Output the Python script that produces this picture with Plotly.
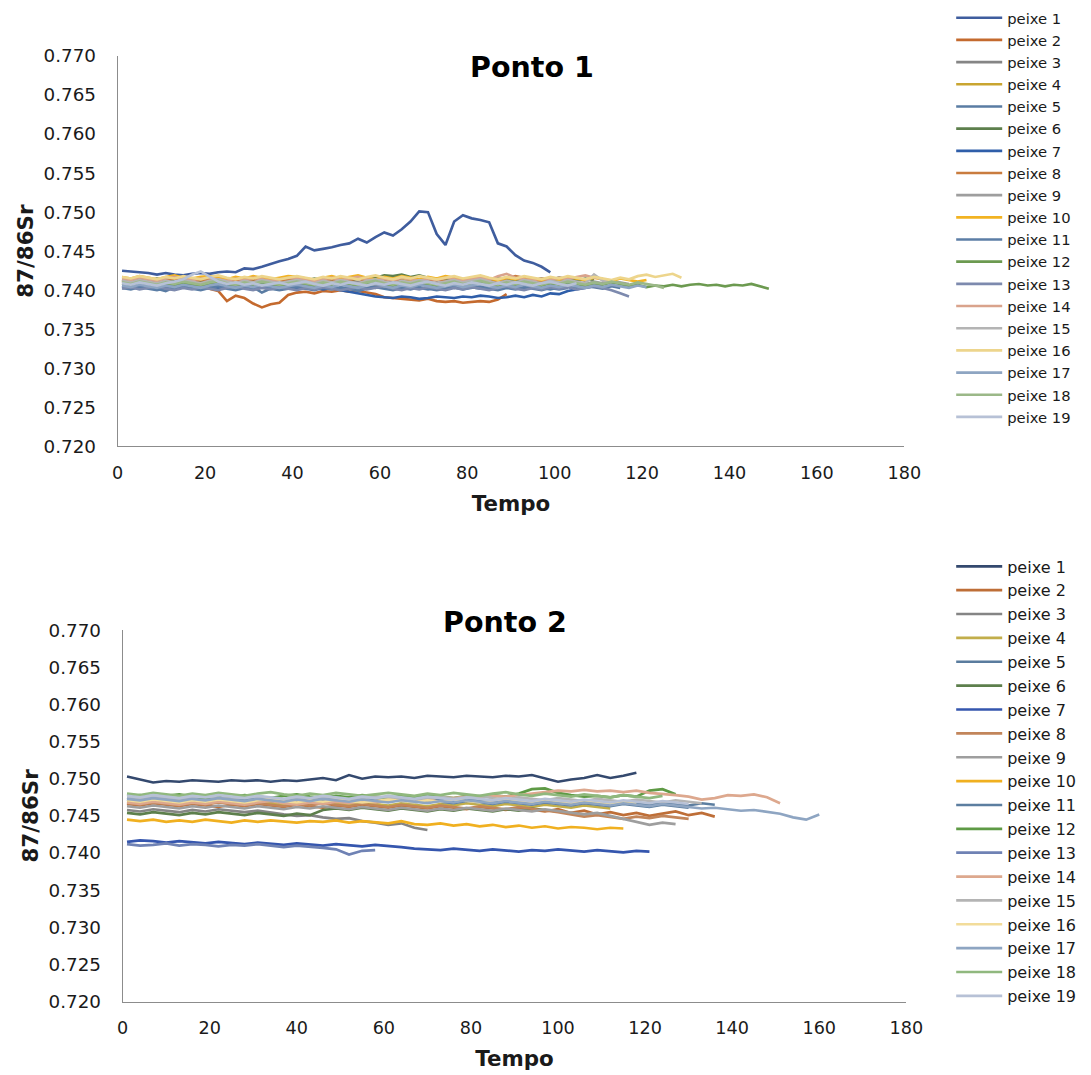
import plotly.graph_objects as go

# ---------------- data ----------------
NAMES = ["peixe 1", "peixe 2", "peixe 3", "peixe 4", "peixe 5", "peixe 6", "peixe 7",
         "peixe 8", "peixe 9", "peixe 10", "peixe 11", "peixe 12", "peixe 13", "peixe 14",
         "peixe 15", "peixe 16", "peixe 17", "peixe 18", "peixe 19"]

# time index of the readings (Ponto 1 read every 2 units, Ponto 2 every 3 units)
tempo_1 = list(range(1, 150, 2))
tempo_2 = list(range(1, 164, 3))

# ---- Ponto 1 ----
a01 = [.7425, .7424, .7423, .7422, .7420, .7422, .7420, .7419, .7421, .7422,
       .7421, .7423, .7424, .7423, .7428, .7427, .7430, .7434, .7437, .7440,
       .7444, .7456, .7451, .7453, .7455, .7458, .7460, .7466, .7461, .7468,
       .7474, .7470, .7478, .7488, .7501, .7500, .7472, .7458, .7488, .7496,
       .7492, .7490, .7487, .7460, .7456, .7445, .7438, .7435, .7430, .7423]
a02 = [.7412, .7410, .7411, .7409, .7410, .7408, .7409, .7407, .7406, .7405,
       .7402, .7399, .7386, .7393, .7390, .7383, .7378, .7382, .7384, .7394,
       .7397, .7398, .7396, .7399, .7398, .7400, .7398, .7399, .7397, .7395,
       .7391, .7390, .7389, .7388, .7387, .7389, .7386, .7385, .7386, .7384,
       .7385, .7386, .7385, .7388, .7395]
a03 = [.7409, .7407, .7410, .7408, .7406, .7409, .7411, .7408, .7407, .7409,
       .7410, .7408, .7406, .7409, .7407, .7410, .7408, .7406, .7408, .7410,
       .7409, .7407, .7405, .7408, .7410, .7407, .7409, .7411, .7408, .7406,
       .7409, .7412, .7408, .7406, .7409, .7407, .7410, .7408, .7405, .7407,
       .7410, .7408, .7406, .7409, .7411, .7408, .7406, .7408, .7410, .7407,
       .7409, .7406, .7408, .7410, .7407, .7405]
a04 = [.7414, .7412, .7415, .7413, .7411, .7414, .7416, .7413, .7412, .7414,
       .7415, .7413, .7411, .7414, .7412, .7415, .7413, .7411, .7413, .7415,
       .7414, .7412, .7410, .7413, .7415, .7412, .7414, .7416, .7413, .7411,
       .7414, .7417, .7413, .7411, .7414, .7412, .7415, .7413, .7410, .7412,
       .7415, .7413, .7411, .7414, .7416, .7413, .7411, .7413, .7415, .7412,
       .7414, .7411, .7413]
a05 = [.7405, .7403, .7406, .7404, .7402, .7399, .7404, .7406, .7403, .7405,
       .7404, .7402, .7405, .7403, .7406, .7404, .7397, .7402, .7404, .7403,
       .7405, .7402, .7404, .7406, .7403, .7401, .7404, .7402, .7405, .7403,
       .7406, .7404, .7402, .7405, .7403, .7401, .7404, .7406, .7403, .7405,
       .7404, .7402, .7405, .7403, .7406, .7404, .7402, .7405, .7403, .7401,
       .7404, .7406, .7403, .7405, .7404, .7402, .7405, .7403]
a06 = [.7413, .7411, .7414, .7412, .7415, .7413, .7411, .7414, .7412, .7410,
       .7413, .7415, .7412, .7414, .7411, .7413, .7415, .7412, .7410, .7413,
       .7414, .7412, .7415, .7413, .7411, .7414, .7412, .7415, .7413, .7416,
       .7419, .7418, .7420, .7417, .7419, .7416, .7414, .7412, .7415, .7413,
       .7411, .7414, .7412, .7415, .7413, .7411, .7414, .7412, .7415, .7413,
       .7416, .7414, .7412, .7415, .7413]
a07 = [.7406, .7404, .7407, .7405, .7403, .7406, .7404, .7407, .7405, .7403,
       .7406, .7404, .7405, .7407, .7404, .7402, .7405, .7403, .7406, .7404,
       .7402, .7405, .7403, .7401, .7403, .7400, .7398, .7396, .7394, .7392,
       .7391, .7390, .7392, .7391, .7389, .7390, .7392, .7391, .7390, .7392,
       .7391, .7393, .7392, .7390, .7391, .7393, .7391, .7394, .7392, .7396,
       .7395, .7399, .7401, .7403, .7405]
a08 = [.7413, .7411, .7414, .7412, .7410, .7413, .7415, .7412, .7411, .7413,
       .7414, .7412, .7410, .7413, .7411, .7414, .7412, .7410, .7412, .7414,
       .7413, .7411, .7409, .7412, .7414, .7411, .7413, .7415, .7412, .7410,
       .7413, .7415, .7412, .7410, .7413, .7411, .7414, .7412, .7409, .7411,
       .7414, .7412, .7410, .7413, .7415, .7418, .7416, .7413, .7411, .7412]
a09 = [.7411, .7409, .7412, .7410, .7408, .7411, .7409, .7412, .7410, .7408,
       .7411, .7413, .7410, .7408, .7411, .7409, .7412, .7410, .7408, .7410,
       .7412, .7410, .7408, .7411, .7409, .7412, .7410, .7408, .7411, .7413,
       .7410, .7408, .7411, .7409, .7412, .7410, .7408, .7410, .7412, .7409,
       .7411, .7413, .7410, .7408, .7411, .7409, .7412, .7410, .7408, .7411,
       .7409, .7412, .7410, .7408, .7411, .7409, .7412, .7410, .7408]
a10 = [.7417, .7415, .7418, .7416, .7414, .7417, .7419, .7416, .7415, .7417,
       .7418, .7416, .7414, .7417, .7415, .7418, .7416, .7414, .7416, .7418,
       .7417, .7415, .7413, .7416, .7418, .7415, .7417, .7419, .7416, .7414,
       .7417, .7415, .7418, .7416, .7414, .7417, .7415, .7418, .7416, .7414,
       .7416, .7418, .7415, .7413, .7416, .7414, .7417, .7415, .7413, .7416,
       .7414, .7417, .7415, .7413, .7416, .7414, .7412, .7415, .7413, .7411,
       .7413]
a11 = [.7403, .7401, .7404, .7402, .7400, .7403, .7401, .7404, .7402, .7400,
       .7403, .7405, .7402, .7400, .7403, .7401, .7404, .7402, .7400, .7402,
       .7404, .7402, .7400, .7403, .7401, .7404, .7402, .7399, .7402, .7404,
       .7402, .7400, .7403, .7401, .7404, .7402, .7400, .7402, .7404, .7401,
       .7403, .7405, .7402, .7400, .7403, .7401, .7404, .7402, .7400, .7403,
       .7401, .7403]
a12 = [.7409, .7407, .7410, .7408, .7406, .7409, .7407, .7410, .7408, .7406,
       .7409, .7411, .7408, .7406, .7409, .7407, .7410, .7408, .7406, .7408,
       .7410, .7408, .7406, .7409, .7407, .7410, .7408, .7406, .7409, .7411,
       .7408, .7406, .7409, .7407, .7410, .7408, .7406, .7408, .7410, .7407,
       .7409, .7411, .7408, .7406, .7409, .7407, .7410, .7408, .7406, .7409,
       .7407, .7410, .7408, .7406, .7409, .7407, .7410, .7408, .7405, .7407,
       .7404, .7406, .7405, .7407, .7405, .7407, .7408, .7406, .7407, .7405,
       .7407, .7406, .7408, .7405, .7402]
a13 = [.7402, .7404, .7401, .7403, .7405, .7402, .7400, .7403, .7401, .7404,
       .7402, .7400, .7403, .7405, .7402, .7400, .7403, .7401, .7404, .7402,
       .7400, .7403, .7401, .7404, .7402, .7400, .7402, .7404, .7401, .7403,
       .7405, .7402, .7400, .7403, .7401, .7404, .7402, .7400, .7403, .7401,
       .7404, .7402, .7400, .7403, .7405, .7402, .7400, .7403, .7401, .7404,
       .7402, .7404, .7401, .7403, .7405, .7403, .7400, .7396, .7392]
a14 = [.7415, .7413, .7416, .7414, .7412, .7415, .7417, .7414, .7413, .7415,
       .7416, .7414, .7412, .7415, .7413, .7416, .7414, .7412, .7414, .7416,
       .7415, .7413, .7411, .7414, .7416, .7413, .7415, .7417, .7414, .7412,
       .7415, .7413, .7416, .7414, .7412, .7415, .7413, .7416, .7414, .7412,
       .7414, .7416, .7413, .7418, .7421, .7416, .7414, .7413, .7415, .7413,
       .7416, .7414, .7417, .7419, .7416, .7415]
a15 = [.7412, .7410, .7413, .7411, .7409, .7412, .7410, .7413, .7411, .7409,
       .7412, .7414, .7411, .7409, .7412, .7410, .7413, .7411, .7409, .7411,
       .7413, .7411, .7409, .7412, .7410, .7413, .7411, .7409, .7412, .7414,
       .7411, .7409, .7412, .7410, .7413, .7411, .7409, .7411, .7413, .7410,
       .7412, .7414, .7411, .7409, .7412, .7410, .7413, .7411, .7409, .7412,
       .7410, .7413, .7411, .7409, .7420, .7412, .7410]
a16 = [.7417, .7415, .7418, .7416, .7414, .7417, .7415, .7418, .7416, .7414,
       .7417, .7419, .7416, .7414, .7417, .7415, .7418, .7416, .7414, .7416,
       .7418, .7416, .7414, .7417, .7415, .7418, .7416, .7414, .7417, .7419,
       .7416, .7414, .7417, .7415, .7418, .7416, .7414, .7416, .7418, .7415,
       .7417, .7419, .7416, .7414, .7417, .7415, .7418, .7416, .7414, .7417,
       .7415, .7418, .7416, .7414, .7417, .7415, .7413, .7416, .7414, .7418,
       .7420, .7417, .7419, .7421, .7416]
a17 = [.7406, .7404, .7407, .7405, .7403, .7406, .7404, .7407, .7405, .7403,
       .7406, .7408, .7405, .7403, .7406, .7404, .7407, .7405, .7403, .7405,
       .7407, .7405, .7403, .7406, .7404, .7407, .7405, .7403, .7406, .7408,
       .7405, .7403, .7406, .7404, .7407, .7405, .7403, .7405, .7407, .7404,
       .7406, .7408, .7405, .7403, .7406, .7404, .7407, .7405, .7403, .7406,
       .7404, .7407, .7405, .7403, .7406, .7404, .7407, .7405, .7403, .7406,
       .7404]
a18 = [.7410, .7408, .7411, .7409, .7407, .7410, .7408, .7411, .7409, .7407,
       .7410, .7412, .7409, .7407, .7410, .7408, .7411, .7409, .7407, .7409,
       .7411, .7409, .7407, .7410, .7408, .7411, .7409, .7407, .7410, .7412,
       .7409, .7407, .7410, .7408, .7411, .7409, .7407, .7409, .7411, .7408,
       .7410, .7412, .7409, .7407, .7410, .7408, .7411, .7409, .7407, .7410,
       .7408, .7411, .7409, .7407, .7410, .7408, .7411, .7409, .7407, .7410,
       .7408, .7406, .7403]
a19 = [.7409, .7407, .7410, .7408, .7406, .7409, .7411, .7414, .7420, .7424,
       .7418, .7411, .7408, .7410, .7407, .7409, .7406, .7408, .7410, .7407,
       .7409, .7411, .7408, .7406, .7409, .7407, .7410, .7408, .7406, .7409,
       .7407, .7410, .7408, .7406, .7409, .7411, .7408, .7406, .7409, .7407,
       .7410, .7408, .7406, .7409, .7407, .7410, .7408, .7406, .7409, .7411,
       .7408, .7406, .7409]

# ---- Ponto 2 ----
b01 = [.7503, .7499, .7495, .7497, .7496, .7498, .7497, .7496, .7498, .7497,
       .7498, .7496, .7498, .7497, .7499, .7501, .7498, .7505, .7500, .7503,
       .7502, .7503, .7501, .7504, .7503, .7502, .7504, .7503, .7502, .7504,
       .7503, .7505, .7500, .7496, .7499, .7501, .7505, .7501, .7504, .7508]
b02 = [.7466, .7464, .7467, .7465, .7463, .7466, .7464, .7462, .7465, .7463,
       .7466, .7464, .7462, .7465, .7463, .7461, .7464, .7462, .7465, .7463,
       .7461, .7464, .7462, .7460, .7463, .7461, .7459, .7462, .7460, .7458,
       .7461, .7458, .7456, .7459, .7454, .7457, .7452, .7455, .7451, .7454,
       .7450, .7453, .7456, .7451, .7454, .7449]
b03 = [.7458, .7456, .7459, .7457, .7455, .7458, .7456, .7459, .7457, .7455,
       .7457, .7455, .7452, .7450, .7451, .7448, .7446, .7447, .7443, .7441,
       .7438, .7440, .7434, .7431]
b04 = [.7469, .7467, .7470, .7468, .7466, .7469, .7467, .7470, .7468, .7466,
       .7469, .7467, .7465, .7468, .7466, .7469, .7467, .7465, .7468, .7466,
       .7464, .7467, .7465, .7463, .7466, .7464, .7467, .7465, .7463, .7466,
       .7464, .7462, .7465, .7463, .7461, .7464, .7462, .7460]
b05 = [.7472, .7470, .7473, .7471, .7469, .7472, .7470, .7473, .7471, .7469,
       .7472, .7470, .7468, .7471, .7469, .7472, .7470, .7468, .7471, .7469,
       .7472, .7470, .7468, .7471, .7469, .7467, .7470, .7468, .7466, .7469,
       .7467, .7465, .7468, .7466, .7464, .7467, .7465, .7463, .7466, .7464,
       .7462, .7465, .7463, .7461]
b06 = [.7454, .7452, .7455, .7453, .7451, .7454, .7452, .7455, .7453, .7451,
       .7454, .7452, .7450, .7453, .7451, .7458, .7460, .7458, .7461, .7459,
       .7457, .7460, .7458, .7456, .7459, .7457, .7460, .7458, .7456, .7459,
       .7457, .7460, .7458, .7456]
b07 = [.7415, .7417, .7416, .7414, .7416, .7415, .7413, .7415, .7414, .7412,
       .7414, .7413, .7411, .7413, .7412, .7410, .7412, .7411, .7409, .7411,
       .7410, .7408, .7406, .7405, .7404, .7406, .7404, .7403, .7405, .7404,
       .7402, .7404, .7403, .7405, .7403, .7402, .7404, .7403, .7401, .7403,
       .7402]
b08 = [.7467, .7465, .7468, .7466, .7464, .7467, .7465, .7468, .7466, .7464,
       .7467, .7465, .7463, .7466, .7464, .7467, .7465, .7463, .7466, .7464,
       .7462, .7465, .7463, .7461, .7464, .7462, .7460, .7463, .7461, .7459,
       .7462, .7460, .7458, .7455, .7452, .7449, .7451, .7448, .7446, .7449,
       .7447, .7450, .7448, .7446]
b09 = [.7463, .7461, .7464, .7462, .7460, .7463, .7461, .7464, .7462, .7460,
       .7463, .7461, .7459, .7462, .7460, .7463, .7461, .7459, .7462, .7460,
       .7458, .7461, .7459, .7457, .7460, .7458, .7461, .7459, .7457, .7460,
       .7458, .7456, .7459, .7457, .7455, .7452, .7454, .7450, .7446, .7442,
       .7438, .7441, .7439]
b10 = [.7445, .7443, .7445, .7442, .7444, .7442, .7445, .7443, .7441, .7444,
       .7442, .7444, .7443, .7441, .7443, .7442, .7444, .7441, .7443, .7442,
       .7440, .7443, .7439, .7438, .7440, .7437, .7439, .7436, .7438, .7435,
       .7437, .7434, .7436, .7433, .7435, .7434, .7432, .7434, .7433]
b11 = [.7475, .7473, .7476, .7474, .7472, .7475, .7473, .7476, .7474, .7472,
       .7475, .7473, .7471, .7474, .7472, .7475, .7473, .7471, .7474, .7472,
       .7470, .7473, .7471, .7469, .7472, .7470, .7473, .7471, .7469, .7472,
       .7470, .7468, .7471, .7469, .7467, .7470, .7468, .7466, .7469, .7467,
       .7465, .7468, .7466, .7464, .7467, .7465]
b12 = [.7476, .7478, .7475, .7477, .7479, .7476, .7474, .7477, .7475, .7478,
       .7476, .7474, .7477, .7479, .7476, .7474, .7477, .7475, .7478, .7476,
       .7474, .7477, .7475, .7478, .7476, .7474, .7477, .7475, .7478, .7476,
       .7480, .7486, .7487, .7481, .7478, .7476, .7477, .7475, .7478, .7476,
       .7484, .7486, .7479]
b13 = [.7412, .7410, .7411, .7413, .7410, .7412, .7411, .7409, .7411, .7410,
       .7412, .7410, .7408, .7410, .7409, .7407, .7405, .7398, .7403, .7404]
b14 = [.7468, .7466, .7469, .7467, .7465, .7468, .7466, .7469, .7467, .7465,
       .7468, .7470, .7467, .7465, .7468, .7466, .7469, .7467, .7470, .7468,
       .7470, .7472, .7471, .7473, .7475, .7474, .7476, .7475, .7477, .7476,
       .7478, .7479, .7482, .7484, .7483, .7485, .7483, .7484, .7482, .7484,
       .7481, .7480, .7478, .7476, .7472, .7474, .7478, .7477, .7479, .7475,
       .7467]
b15 = [.7475, .7473, .7476, .7474, .7472, .7475, .7477, .7474, .7473, .7475,
       .7476, .7474, .7472, .7475, .7473, .7476, .7474, .7472, .7474, .7476,
       .7475, .7473, .7471, .7474, .7476, .7473, .7475, .7477, .7474, .7472,
       .7475, .7473, .7471, .7474, .7472, .7470, .7473, .7471, .7469, .7472,
       .7470, .7468, .7471, .7469, .7467]
b16 = [.7471, .7469, .7472, .7470, .7468, .7471, .7469, .7472, .7470, .7468,
       .7471, .7473, .7470, .7468, .7471, .7469, .7472, .7470, .7468, .7470,
       .7472, .7470, .7468, .7471, .7469, .7472, .7470, .7468, .7471, .7473,
       .7470, .7468, .7471, .7469, .7467, .7470, .7468, .7466, .7469, .7467]
b17 = [.7473, .7471, .7474, .7472, .7470, .7473, .7471, .7474, .7472, .7470,
       .7473, .7471, .7469, .7472, .7470, .7473, .7471, .7469, .7472, .7470,
       .7468, .7471, .7469, .7467, .7470, .7468, .7471, .7469, .7467, .7470,
       .7468, .7466, .7469, .7467, .7465, .7468, .7466, .7464, .7467, .7465,
       .7463, .7466, .7464, .7462, .7460, .7461, .7459, .7457, .7458, .7456,
       .7453, .7448, .7445, .7452]
b18 = [.7480, .7478, .7481, .7479, .7477, .7480, .7478, .7481, .7479, .7477,
       .7480, .7482, .7479, .7477, .7480, .7478, .7481, .7479, .7477, .7479,
       .7481, .7479, .7477, .7480, .7478, .7481, .7479, .7477, .7480, .7482,
       .7479, .7477, .7480, .7478, .7476, .7479, .7477, .7475, .7478, .7476,
       .7474, .7477]
b19 = [.7477, .7475, .7478, .7476, .7474, .7477, .7475, .7478, .7476, .7474,
       .7477, .7475, .7473, .7476, .7474, .7477, .7475, .7473, .7476, .7474,
       .7477, .7475, .7473, .7476, .7474, .7472, .7475, .7473, .7471, .7474,
       .7472, .7470, .7473, .7471, .7469, .7472, .7470, .7468, .7471, .7469,
       .7467, .7470, .7468, .7466]

SERIES_1 = [a01, a02, a03, a04, a05, a06, a07, a08, a09, a10,
            a11, a12, a13, a14, a15, a16, a17, a18, a19]
SERIES_2 = [b01, b02, b03, b04, b05, b06, b07, b08, b09, b10,
            b11, b12, b13, b14, b15, b16, b17, b18, b19]

Y_TICKS = [0.720, 0.725, 0.730, 0.735, 0.740, 0.745, 0.750, 0.755, 0.760, 0.765, 0.770]
X_TICKS = [0, 20, 40, 60, 80, 100, 120, 140, 160, 180]

# ---------------- style ----------------
COLORS_1 = ["#3F5D9E", "#C46A2E", "#858585", "#C9A530", "#5A7CA3", "#5D7F4C",
            "#2F5EA9", "#C97C3E", "#9E9E9E", "#F2B322", "#5C7EA6", "#6C9A50",
            "#7D8AAE", "#D9A38C", "#B4B4B4", "#EDD58C", "#8EA5C2", "#9BB888",
            "#B7C1D6"]
COLORS_2 = ["#34496E", "#BE6E37", "#858585", "#C2AE4B", "#5A7C9E", "#5D7F4C",
            "#3556AE", "#C2855A", "#9E9E9E", "#F0B020", "#5C7EA0", "#5E9A45",
            "#6F82B4", "#DDA88E", "#B4B4B4", "#F2DC9A", "#8EA5C2", "#90B87E",
            "#B7C1D6"]

FONT = "DejaVu Sans, Liberation Sans, Arial, sans-serif"
TXT = "#1a1a1a"
AX = "#8c8c8c"

# page framing: the photographed page shows the figure offset by the body margin and
# slightly reduced; positions below are target picture pixels mapped into figure pixels
SC = 0.982
OX, OY = 5.0, 10.0
W, H = 1100, 1086


def fx(x):
    return (x - OX) / SC


def fy(y):
    return (y - OY) / SC


def px(x):
    return fx(x) / W


def py(y):
    return 1 - fy(y) / H


def fs(s):
    return round(s / SC, 2)


fig = go.Figure()
for i, vals in enumerate(SERIES_1):
    fig.add_trace(go.Scatter(x=tempo_1[:len(vals)], y=vals, mode="lines", name=NAMES[i],
                             line=dict(color=COLORS_1[i], width=2.65),
                             xaxis="x", yaxis="y", legend="legend"))
for i, vals in enumerate(SERIES_2):
    fig.add_trace(go.Scatter(x=tempo_2[:len(vals)], y=vals, mode="lines", name=NAMES[i],
                             line=dict(color=COLORS_2[i], width=2.65),
                             xaxis="x2", yaxis="y2", legend="legend2"))


def xax(domain, anchor):
    return dict(domain=domain, anchor=anchor, range=[0, 180], tickmode="array",
                tickvals=X_TICKS, ticktext=[str(v) for v in X_TICKS],
                showgrid=False, zeroline=False, showline=True, linecolor=AX, linewidth=1,
                ticks="", ticklabelstandoff=10,
                tickfont=dict(family=FONT, size=fs(17.3), color=TXT),
                title=dict(text="<b>Tempo</b>", standoff=14,
                           font=dict(family=FONT, size=fs(21), color=TXT)))


def yax(domain, anchor):
    return dict(domain=domain, anchor=anchor, range=[0.720, 0.770], tickmode="array",
                tickvals=Y_TICKS, ticktext=[f"{v:.3f}" for v in Y_TICKS],
                showgrid=False, zeroline=False, showline=True, linecolor=AX, linewidth=1,
                ticks="", ticklabelstandoff=17,
                tickfont=dict(family=FONT, size=fs(18), color=TXT),
                title=dict(text="<b>87/86Sr</b>", standoff=4,
                           font=dict(family=FONT, size=fs(21), color=TXT)))


fig.update_layout(
    width=W, height=H,
    margin=dict(l=0, r=0, t=0, b=0),
    paper_bgcolor="white", plot_bgcolor="white",
    font=dict(family=FONT, color=TXT),
    xaxis=xax([px(117), px(906)], "y"),
    yaxis=yax([py(446), py(55)], "x"),
    xaxis2=xax([px(122), px(908)], "y2"),
    yaxis2=yax([py(1002), py(630)], "x2"),
    legend=dict(x=fx(953) / W, y=1 + 9.5 / H, xanchor="left", yanchor="top", itemwidth=46,
                bgcolor="rgba(0,0,0,0)", tracegroupgap=0,
                font=dict(family=FONT, size=14.75, color=TXT)),
    legend2=dict(x=fx(953) / W, y=1 - 549 / H, xanchor="left", yanchor="top", itemwidth=46,
                 bgcolor="rgba(0,0,0,0)", tracegroupgap=0,
                 font=dict(family=FONT, size=16.05, color=TXT)),
    annotations=[
        dict(text="<b>Ponto 1</b>", x=px(533), y=py(67), xref="paper", yref="paper",
             xanchor="center", yanchor="middle", showarrow=False,
             font=dict(family=FONT, size=fs(28), color="black")),
        dict(text="<b>Ponto 2</b>", x=px(505), y=py(622), xref="paper", yref="paper",
             xanchor="center", yanchor="middle", showarrow=False,
             font=dict(family=FONT, size=fs(28), color="black")),
    ],
)

fig.write_html("out.html")
